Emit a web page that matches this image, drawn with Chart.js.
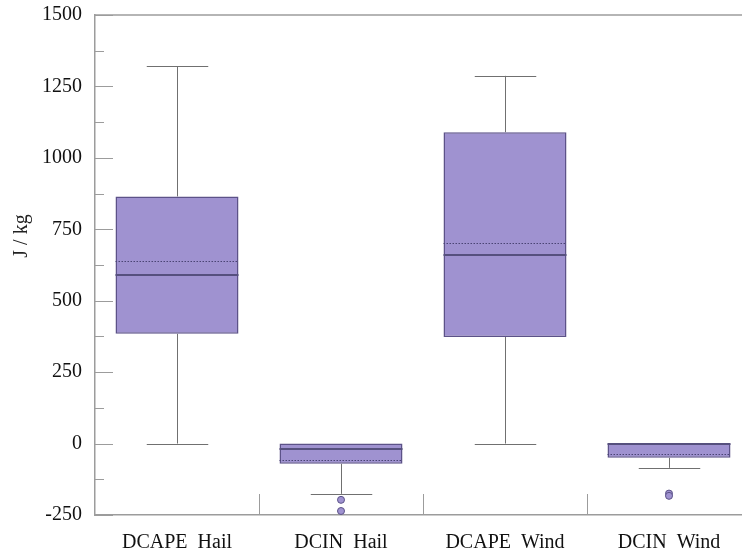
<!DOCTYPE html>
<html>
<head>
<meta charset="utf-8">
<script src="https://cdn.jsdelivr.net/npm/chart.js@4.4.1/dist/chart.umd.min.js"></script>
<style>
  html, body { margin: 0; padding: 0; background: #fff; overflow: hidden; }
  #wrap { width: 752px; height: 550px; }
</style>
</head>
<body>
<div id="wrap"><canvas id="c" width="752" height="550"></canvas></div>
<script>
// box plot: DCAPE / DCIN, hail vs wind (J/kg)
const categories = ["DCAPE  Hail", "DCIN  Hail", "DCAPE  Wind", "DCIN  Wind"];
const whiskerLow = [0, -176, 0, -85];
const q1 = [384, -71, 373, -50];
const median = [591, -19, 660, 0];
const mean = [639, -57, 701, -36];
const q3 = [865, 0, 1090, 0];
const whiskerHigh = [1320, 0, 1287, 0];
const outliers = [[], [-197, -236], [], [-175, -183]];
const yTicks = [-250, 0, 250, 500, 750, 1000, 1250, 1500];

const FILL = "#9f92d0";
const EDGE = "#5c5288";
const AXIS = "#9c9c9c";
const FONT = "'Liberation Serif', 'DejaVu Serif', serif";

const boxExtras = {
  id: "boxExtras",
  beforeDatasetsDraw(chart) {
    const ctx = chart.ctx, y = chart.scales.y;
    const bars = chart.getDatasetMeta(0).data;
    ctx.save();
    ctx.strokeStyle = "#707070";
    ctx.lineWidth = 1;
    bars.forEach((b, i) => {
      const cx = Math.round(b.x) + 0.5, half = b.width / 4;
      const segs = [[whiskerHigh[i], q3[i]], [q1[i], whiskerLow[i]]];
      segs.forEach(([a, z]) => {
        if (a === z) return;
        ctx.beginPath();
        ctx.moveTo(cx, y.getPixelForValue(a));
        ctx.lineTo(cx, y.getPixelForValue(z));
        ctx.stroke();
      });
      [whiskerHigh[i], whiskerLow[i]].forEach(v => {
        if (v === q3[i] || v === q1[i]) return;
        const py = Math.round(y.getPixelForValue(v)) + 0.5;
        ctx.beginPath();
        ctx.moveTo(cx - half, py);
        ctx.lineTo(cx + half, py);
        ctx.stroke();
      });
    });
    ctx.restore();
  },
  afterDatasetsDraw(chart) {
    const ctx = chart.ctx, y = chart.scales.y;
    const bars = chart.getDatasetMeta(0).data;
    ctx.save();
    bars.forEach((b, i) => {
      const l = b.x - b.width / 2, r = b.x + b.width / 2;
      // mean, dotted
      ctx.strokeStyle = "#4a4474";
      ctx.lineWidth = 1;
      ctx.setLineDash([1.5, 1.5]);
      let py = Math.round(y.getPixelForValue(mean[i])) + 0.5;
      ctx.beginPath(); ctx.moveTo(l, py); ctx.lineTo(r, py); ctx.stroke();
      // median
      ctx.setLineDash([]);
      ctx.strokeStyle = "#56507e";
      ctx.lineWidth = 2;
      py = Math.round(y.getPixelForValue(median[i]));
      ctx.beginPath(); ctx.moveTo(l, py); ctx.lineTo(r, py); ctx.stroke();
      // outliers
      ctx.lineWidth = 1;
      ctx.strokeStyle = EDGE;
      ctx.fillStyle = FILL;
      outliers[i].forEach(v => {
        ctx.beginPath();
        ctx.arc(b.x, y.getPixelForValue(v), 3.5, 0, Math.PI * 2);
        ctx.fill(); ctx.stroke();
      });
    });
    ctx.restore();
  },
  afterDraw(chart) {
    const ctx = chart.ctx, a = chart.chartArea, y = chart.scales.y, x = chart.scales.x;
    ctx.save();
    ctx.strokeStyle = AXIS;
    ctx.lineWidth = 1.5;
    // top frame line
    ctx.beginPath(); ctx.moveTo(a.left, a.top); ctx.lineTo(a.right, a.top); ctx.stroke();
    // inward y ticks, major + minor
    ctx.lineWidth = 1;
    for (let v = -250; v <= 1500; v += 125) {
      const py = Math.round(y.getPixelForValue(v)) + 0.5;
      const len = v % 250 === 0 ? 18 : 9;
      ctx.beginPath(); ctx.moveTo(a.left, py); ctx.lineTo(a.left + len, py); ctx.stroke();
    }
    // divider ticks between categories
    for (let i = 0; i < categories.length - 1; i++) {
      const px = Math.round((x.getPixelForTick(i) + x.getPixelForTick(i + 1)) / 2) + 0.5;
      ctx.beginPath(); ctx.moveTo(px, a.bottom); ctx.lineTo(px, a.bottom - 21); ctx.stroke();
    }
    // y title
    ctx.fillStyle = "#222";
    ctx.font = "20px " + FONT;
    ctx.textAlign = "center";
    ctx.textBaseline = "middle";
    ctx.translate(22, 236);
    ctx.rotate(-Math.PI / 2);
    ctx.fillText("J / kg", 0, 0);
    ctx.restore();
  }
};

new Chart(document.getElementById("c"), {
  type: "bar",
  data: {
    labels: categories,
    datasets: [{
      data: q1.map((v, i) => [v, q3[i]]),
      backgroundColor: FILL,
      borderColor: EDGE,
      borderWidth: 1.5,
      borderSkipped: false,
      barPercentage: 0.75,
      categoryPercentage: 1,
    }],
  },
  options: {
    responsive: false,
    animation: false,
    layout: { padding: { top: 15, right: 1, left: 0, bottom: 0 } },
    plugins: { legend: { display: false }, tooltip: { enabled: false } },
    scales: {
      x: {
        grid: { display: false },
        border: { display: true, color: AXIS, width: 1.5 },
        ticks: { color: "#111", font: { family: FONT, size: 20 }, padding: 8, maxRotation: 0 },
        afterFit(s) { s.height = 35; s.paddingLeft = 0; s.paddingRight = 0; },
      },
      y: {
        min: -250, max: 1500,
        grid: { display: false },
        border: { display: true, color: AXIS, width: 1.5 },
        afterBuildTicks(s) { s.ticks = yTicks.map(v => ({ value: v })); },
        ticks: { color: "#111", font: { family: FONT, size: 20 }, padding: 5,
                 callback: v => String(v) },
        afterFit(s) { s.width = 95; s.paddingTop = 0; s.paddingBottom = 0; },
      },
    },
  },
  plugins: [boxExtras],
});
</script>
</body>
</html>
